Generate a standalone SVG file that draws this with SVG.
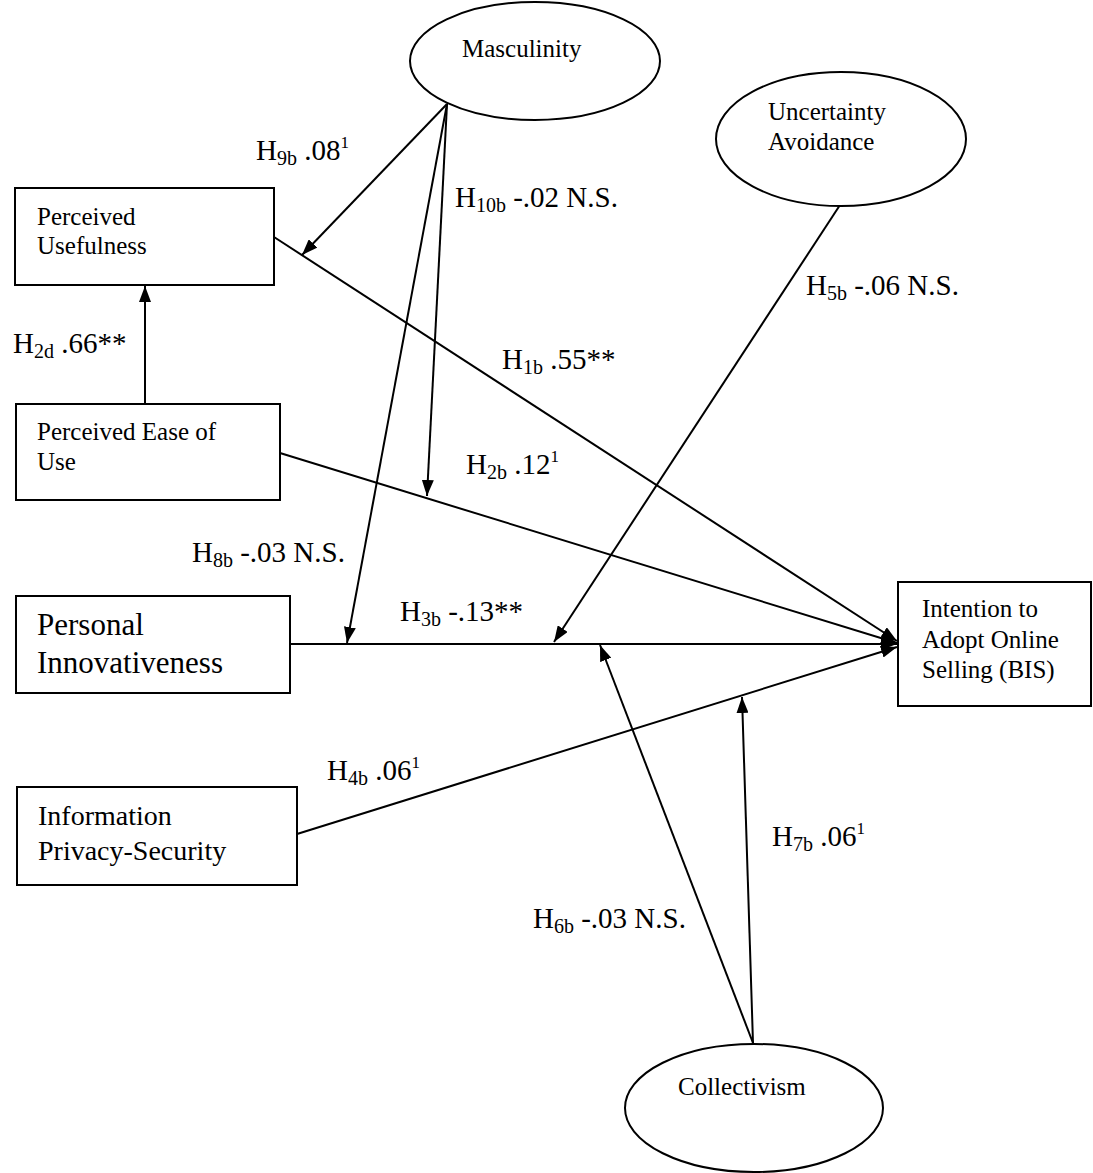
<svg xmlns="http://www.w3.org/2000/svg" width="1093" height="1173" viewBox="0 0 1093 1173">
  <style>
    .box { fill: #fff; stroke: #000; stroke-width: 2; }
    .oval { fill: #fff; stroke: #000; stroke-width: 2; }
    .edge { fill: none; stroke: #000; stroke-width: 2; marker-end: url(#head); }
    text { font-family: "Liberation Serif", "Times New Roman", serif; fill: #000; }
    .t { font-size: 25px; }
    .t28 { font-size: 28px; }
    .big { font-size: 31px; }
    .lbl { font-size: 29px; }
    .sub { font-size: 20px; }
    .sup { font-size: 17px; }
  </style>
  <defs>
    <marker id="head" viewBox="0 0 16 12" refX="16" refY="6" markerWidth="16" markerHeight="12" markerUnits="userSpaceOnUse" orient="auto">
      <path d="M0,0 L16,6 L0,12 z" fill="#000"/>
    </marker>
  </defs>

  <rect width="1093" height="1173" fill="#fff"/>

  <!-- paths between constructs, and moderating paths onto them -->
  <g id="connectors">
    <line class="edge" x1="274" y1="237" x2="897" y2="641"/>
    <line class="edge" x1="280" y1="453" x2="897" y2="643"/>
    <line class="edge" x1="290" y1="644" x2="897" y2="644"/>
    <line class="edge" x1="297" y1="834" x2="897" y2="647"/>
    <line class="edge" x1="145" y1="404" x2="145" y2="286"/>
    <line class="edge" x1="447" y1="104" x2="302" y2="255"/>
    <line class="edge" x1="447" y1="104" x2="427" y2="496"/>
    <line class="edge" x1="447" y1="104" x2="347" y2="643"/>
    <line class="edge" x1="840" y1="205" x2="554" y2="642"/>
    <line class="edge" x1="753" y1="1043" x2="600" y2="645"/>
    <line class="edge" x1="753" y1="1043" x2="742" y2="697"/>
  </g>

  <g id="labels">
    <text class="lbl" x="256" y="160">H<tspan class="sub" dy="5">9b</tspan><tspan dy="-5"> .08</tspan><tspan class="sup" dy="-12">1</tspan></text>
    <text class="lbl" x="455" y="207">H<tspan class="sub" dy="5">10b</tspan><tspan dy="-5"> -.02 N.S.</tspan></text>
    <text class="lbl" x="806" y="295">H<tspan class="sub" dy="5">5b</tspan><tspan dy="-5"> -.06 N.S.</tspan></text>
    <text class="lbl" x="502" y="369">H<tspan class="sub" dy="5">1b</tspan><tspan dy="-5"> .55**</tspan></text>
    <text class="lbl" x="13" y="353">H<tspan class="sub" dy="5">2d</tspan><tspan dy="-5"> .66**</tspan></text>
    <text class="lbl" x="466" y="474">H<tspan class="sub" dy="5">2b</tspan><tspan dy="-5"> .12</tspan><tspan class="sup" dy="-12">1</tspan></text>
    <text class="lbl" x="192" y="562">H<tspan class="sub" dy="5">8b</tspan><tspan dy="-5"> -.03 N.S.</tspan></text>
    <text class="lbl" x="400" y="621">H<tspan class="sub" dy="5">3b</tspan><tspan dy="-5"> -.13**</tspan></text>
    <text class="lbl" x="327" y="780">H<tspan class="sub" dy="5">4b</tspan><tspan dy="-5"> .06</tspan><tspan class="sup" dy="-12">1</tspan></text>
    <text class="lbl" x="772" y="846">H<tspan class="sub" dy="5">7b</tspan><tspan dy="-5"> .06</tspan><tspan class="sup" dy="-12">1</tspan></text>
    <text class="lbl" x="533" y="928">H<tspan class="sub" dy="5">6b</tspan><tspan dy="-5"> -.03 N.S.</tspan></text>
  </g>

  <g id="masculinity">
    <ellipse class="oval" cx="535" cy="61" rx="125" ry="59"/>
    <text class="t" x="462" y="57">Masculinity</text>
  </g>

  <g id="uncertainty-avoidance">
    <ellipse class="oval" cx="841" cy="139" rx="125" ry="67"/>
    <text class="t" x="768" y="120">Uncertainty</text>
    <text class="t" x="768" y="150">Avoidance</text>
  </g>

  <g id="collectivism">
    <ellipse class="oval" cx="754" cy="1108" rx="129" ry="64"/>
    <text class="t" x="678" y="1095">Collectivism</text>
  </g>

  <g id="perceived-usefulness">
    <rect class="box" x="15" y="188" width="259" height="97"/>
    <text class="t" x="37" y="225">Perceived</text>
    <text class="t" x="37" y="254">Usefulness</text>
  </g>

  <g id="perceived-ease-of-use">
    <rect class="box" x="16" y="404" width="264" height="96"/>
    <text class="t" x="37" y="440">Perceived Ease of</text>
    <text class="t" x="37" y="470">Use</text>
  </g>

  <g id="personal-innovativeness">
    <rect class="box" x="16" y="596" width="274" height="97"/>
    <text class="big" x="37" y="635">Personal</text>
    <text class="big" x="37" y="673">Innovativeness</text>
  </g>

  <g id="information-privacy-security">
    <rect class="box" x="17" y="787" width="280" height="98"/>
    <text class="t28" x="38" y="825">Information</text>
    <text class="t28" x="38" y="860">Privacy-Security</text>
  </g>

  <g id="intention-to-adopt">
    <rect class="box" x="898" y="582" width="193" height="124"/>
    <text class="t" x="922" y="617">Intention to</text>
    <text class="t" x="922" y="648">Adopt Online</text>
    <text class="t" x="922" y="678">Selling (BIS)</text>
  </g>
</svg>
